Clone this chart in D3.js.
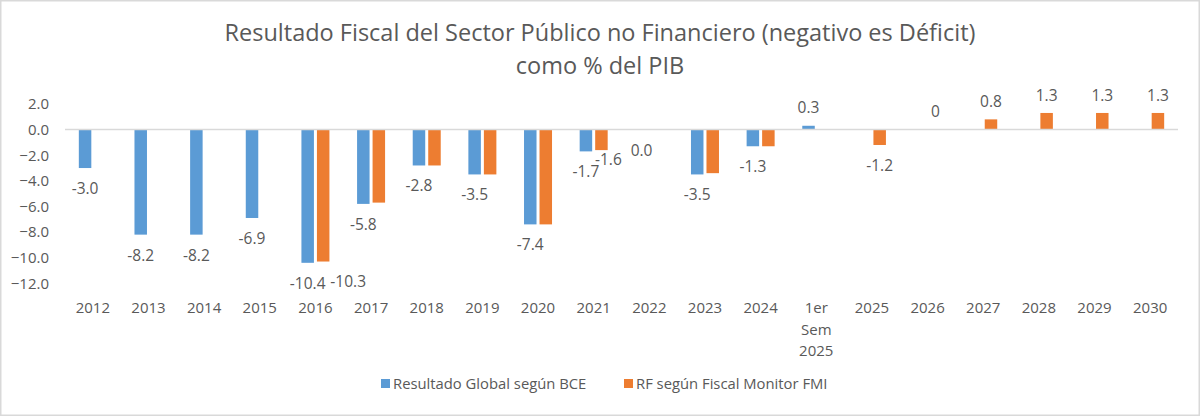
<!DOCTYPE html>
<html>
  <head>
    <meta charset="UTF-8" />
    <title>Resultado Fiscal del Sector Público no Financiero</title>
    <script src="https://d3js.org/d3.v7.min.js"></script>
    <style>
      body { margin: 0; background: #fff; }
      text { font-family: "Open Sans", sans-serif; fill: #595959; }
    </style>
  </head>
  <body>
    <div id="chart"></div>
    <script>
      // Categorías del eje x
      var categories = [
        "2012", "2013", "2014", "2015", "2016", "2017", "2018", "2019",
        "2020", "2021", "2022", "2023", "2024", "1er Sem 2025", "2025",
        "2026", "2027", "2028", "2029", "2030"
      ];

      // Resultado Global según BCE
      var bceValues = [
        -3.0, -8.2, -8.2, -6.9, -10.4, -5.8, -2.8, -3.5, -7.4, -1.7,
        0.0, -3.5, -1.3, 0.3, null, null, null, null, null, null
      ];

      // RF según Fiscal Monitor FMI
      var fmiValues = [
        null, null, null, null, -10.3, -5.7, -2.8, -3.5, -7.4, -1.6,
        null, -3.4, -1.3, null, -1.2, 0, 0.8, 1.3, 1.3, 1.3
      ];

      // Etiquetas visibles (las demás del FMI no se muestran)
      var bceLabels = [
        "-3.0", "-8.2", "-8.2", "-6.9", "-10.4", "-5.8", "-2.8", "-3.5",
        "-7.4", "-1.7", "0.0", "-3.5", "-1.3", "0.3", "", "", "", "", "", ""
      ];
      var fmiLabels = [
        "", "", "", "", "-10.3", "", "", "", "", "-1.6",
        "", "", "", "", "-1.2", "0", "0.8", "1.3", "1.3", "1.3"
      ];

      var yTicks = [2, 0, -2, -4, -6, -8, -10, -12];
      var seriesNames = ["Resultado Global según BCE", "RF según Fiscal Monitor FMI"];
      var colors = ["#5b9bd5", "#ed7d31"];

      // etiquetas movidas a mano en el original
      var labelNudge = { "2016": [25, 0], "2021": [7, -11] };

      var width = 1200, height = 416;

      var svg = d3.select("#chart")
        .append("svg")
        .attr("width", width)
        .attr("height", height);

      // borde del gráfico
      svg.append("rect")
        .attr("x", 0.75).attr("y", 0.75)
        .attr("width", width - 1.5).attr("height", height - 1.5)
        .attr("fill", "#fff")
        .attr("stroke", "#d9d9d9")
        .attr("stroke-width", 1.5);

      // Título
      var title = svg.append("text")
        .attr("text-anchor", "middle")
        .style("font-size", "23.5px");
      title.append("tspan").attr("x", 600).attr("y", 41)
        .text("Resultado Fiscal del Sector Público no Financiero (negativo es Déficit)");
      title.append("tspan").attr("x", 600).attr("y", 74)
        .text("como % del PIB");

      // Escalas
      var x = d3.scaleBand().domain(categories).range([65, 1178]);
      var xInner = d3.scaleBand().domain([0, 1]).range([0, 28]).paddingInner(0.194);
      var y = d3.scaleLinear().domain([-12, 2]).range([283.3, 104]);

      // Eje y (solo etiquetas)
      var yAxis = svg.append("g")
        .attr("transform", "translate(60,0)")
        .call(d3.axisLeft(y).tickValues(yTicks).tickFormat(d3.format(".1f")).tickSize(0).tickPadding(11));
      yAxis.select(".domain").remove();
      yAxis.selectAll("text")
        .style("font-family", "'Open Sans', sans-serif")
        .style("font-size", "15px")
        .attr("fill", "#595959");

      // Barras
      var series = [bceValues, fmiValues];
      series.forEach(function (vals, s) {
        var data = categories.map(function (c, i) { return { cat: c, v: vals[i] }; })
          .filter(function (d) { return d.v !== null; });
        svg.selectAll(".bar" + s)
          .data(data)
          .enter()
          .append("rect")
          .attr("class", "bar" + s)
          .attr("x", function (d) { return x(d.cat) + x.bandwidth() / 2 - 14 + xInner(s); })
          .attr("width", xInner.bandwidth())
          .attr("y", function (d) { return y(Math.max(0, d.v)); })
          .attr("height", function (d) { return Math.abs(y(d.v) - y(0)); })
          .attr("fill", colors[s]);
      });

      // Línea del cero
      svg.append("line")
        .attr("x1", 65).attr("x2", 1178)
        .attr("y1", y(0)).attr("y2", y(0))
        .attr("stroke", "#d9d9d9")
        .attr("stroke-width", 1.5);

      // Etiquetas de datos
      var labelSets = [bceLabels, fmiLabels];
      labelSets.forEach(function (labels, s) {
        var vals = series[s];
        var data = categories.map(function (c, i) { return { cat: c, v: vals[i], t: labels[i] }; })
          .filter(function (d) { return d.t !== "" && d.v !== null; });
        svg.selectAll(".lbl" + s)
          .data(data)
          .enter()
          .append("text")
          .attr("class", "lbl" + s)
          .attr("text-anchor", "middle")
          .attr("dy", "0.35em")
          .style("font-size", "15.5px")
          .attr("x", function (d) {
            var nx = (s === 1 && labelNudge[d.cat]) ? labelNudge[d.cat][0] : 0;
            return x(d.cat) + x.bandwidth() / 2 - 14 + xInner(s) + xInner.bandwidth() / 2 + nx;
          })
          .attr("y", function (d) {
            var ny = (s === 1 && labelNudge[d.cat]) ? labelNudge[d.cat][1] : 0;
            var yy = d.v > 0 || (d.v === 0 && s === 1) ? y(d.v) - 17.7 : y(d.v) + 20.5;
            return yy + ny;
          })
          .text(function (d) { return d.t; });
      });

      // Eje x (etiquetas, con salto de línea)
      var xLabels = svg.append("g");
      categories.forEach(function (c) {
        var words = c.split(" ");
        var t = xLabels.append("text")
          .attr("text-anchor", "middle")
          .style("font-size", "15px")
          .attr("y", 313);
        words.forEach(function (w, i) {
          t.append("tspan")
            .attr("x", x(c) + x.bandwidth() / 2)
            .attr("dy", i === 0 ? 0 : 21.5)
            .text(w);
        });
      });

      // Leyenda
      var legendX = [381, 624];
      seriesNames.forEach(function (name, s) {
        svg.append("rect")
          .attr("x", legendX[s]).attr("y", 379)
          .attr("width", 9).attr("height", 9)
          .attr("fill", colors[s]);
        svg.append("text")
          .attr("x", legendX[s] + 12).attr("y", 389)
          .style("font-size", "14.8px")
          .text(name);
      });
    </script>
  </body>
</html>
